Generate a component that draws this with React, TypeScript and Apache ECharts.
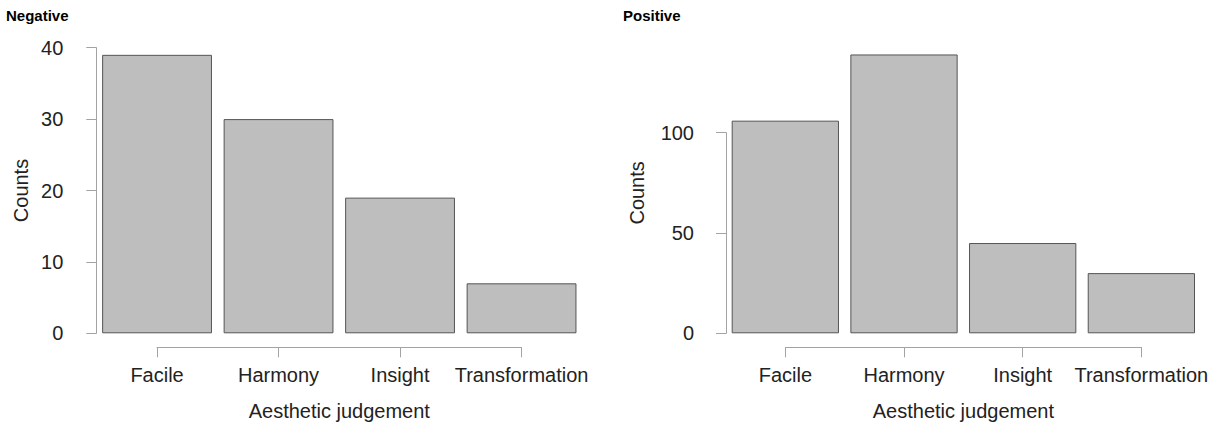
import React, { useEffect, useRef } from "react";
import * as echarts from "echarts";

const categories = ["Facile", "Harmony", "Insight", "Transformation"];
const negativeCounts = [39, 30, 19, 7];
const positiveCounts = [106, 139, 45, 30];
const panelTitles = ["Negative", "Positive"];
const negTicks = { min: 0, max: 40, interval: 10 };
const posTicks = { min: 0, max: 100, interval: 50 };
const posBarMax = 140;

const FONT = "'Liberation Sans', Arial, Helvetica, sans-serif";
const AXIS_GRAY = "#a3a3a3";
const TEXT = "#222";

export default function App() {
  const ref = useRef<HTMLDivElement>(null);
  useEffect(() => {
    if (!ref.current) return;
    const chart = echarts.init(ref.current, undefined, { renderer: "svg" });

    const zero = 333.3;
    // left panel
    const L = { left: 96.3, width: 486, top: 47.7 };
    const lPx = (zero - L.top) / negTicks.max;
    // right panel
    const rPx = 2.006;
    const R = { left: 726, width: 474.7, top: zero - posBarMax * rPx };
    const rAxisTop = zero - posTicks.max * rPx;

    const lBand = L.width / categories.length;
    const rBand = R.width / categories.length;

    const hiddenCat = (g: number) => ({ type: "category", gridIndex: g, data: categories, show: false });
    const hiddenVal = (g: number) => ({ type: "value", gridIndex: g, min: 0, max: 1, show: false });

    const visibleX = (g: number) => ({
      type: "category",
      gridIndex: g,
      data: categories,
      boundaryGap: false,
      position: "bottom",
      axisLine: { show: true, lineStyle: { color: AXIS_GRAY, width: 1 } },
      axisTick: { show: true, length: 10, inside: false, lineStyle: { color: AXIS_GRAY } },
      axisLabel: { show: true, fontSize: 20, color: TEXT, fontFamily: FONT, margin: 18, interval: 0 },
      splitLine: { show: false },
      name: "Aesthetic judgement",
      nameLocation: "middle",
      nameGap: 54,
      nameTextStyle: { fontSize: 20, color: TEXT, fontFamily: FONT },
    });

    const visibleY = (g: number, t: { min: number; max: number; interval: number }, margin: number) => ({
      type: "value",
      gridIndex: g,
      min: t.min,
      max: t.max,
      interval: t.interval,
      offset: 12,
      axisLine: { show: true, lineStyle: { color: AXIS_GRAY, width: 1 } },
      axisTick: { show: true, length: 10, lineStyle: { color: AXIS_GRAY } },
      axisLabel: { show: true, fontSize: 20, color: TEXT, fontFamily: FONT, margin },
      splitLine: { show: false },
    });

    const nameY = (g: number, max: number, gap: number) => ({
      type: "value",
      gridIndex: g,
      min: 0,
      max,
      offset: 12,
      axisLine: { show: false },
      axisTick: { show: false },
      axisLabel: { show: false },
      splitLine: { show: false },
      name: "Counts",
      nameLocation: "middle",
      nameGap: gap,
      nameRotate: 90,
      nameTextStyle: { fontSize: 20, color: TEXT, fontFamily: FONT },
    });

    const barStyle = { color: "#bebebe", borderColor: "#555555", borderWidth: 1 };
    const titleStyle = { fontSize: 15, fontWeight: "bold", color: "#000", fontFamily: FONT };

    chart.setOption({
      animation: false,
      backgroundColor: "#ffffff",
      title: [
        { text: panelTitles[0], left: 6, top: 8, padding: 0, textStyle: titleStyle },
        { text: panelTitles[1], left: 623, top: 8, padding: 0, textStyle: titleStyle },
      ],
      grid: [
        { left: L.left, top: L.top, width: L.width, height: zero - L.top, containLabel: false },
        { left: R.left, top: R.top, width: R.width, height: zero - R.top, containLabel: false },
        { left: L.left, top: L.top, width: L.width, height: negTicks.max * lPx },
        { left: R.left, top: rAxisTop, width: R.width, height: zero - rAxisTop },
        { left: L.left + lBand / 2, top: 346.3, width: lBand * 3, height: 1 },
        { left: R.left + rBand / 2, top: 346.3, width: rBand * 3, height: 1 },
      ],
      xAxis: [hiddenCat(0), hiddenCat(1), hiddenVal(2), hiddenVal(3), visibleX(4), visibleX(5)],
      yAxis: [
        nameY(0, negTicks.max, 53),
        nameY(1, posBarMax, 67),
        visibleY(2, negTicks, 21),
        visibleY(3, posTicks, 20),
        hiddenVal(4),
        hiddenVal(5),
      ],
      series: [
        {
          type: "bar",
          xAxisIndex: 0,
          yAxisIndex: 0,
          data: negativeCounts,
          barCategoryGap: "9.6%",
          itemStyle: barStyle,
          emphasis: { disabled: true },
        },
        {
          type: "bar",
          xAxisIndex: 1,
          yAxisIndex: 1,
          data: positiveCounts,
          barCategoryGap: "9.6%",
          itemStyle: barStyle,
          emphasis: { disabled: true },
        },
      ],
    });
    return () => chart.dispose();
  }, []);

  return <div ref={ref} style={{ position: "fixed", left: 0, top: 0, width: 1219, height: 426 }} />;
}
